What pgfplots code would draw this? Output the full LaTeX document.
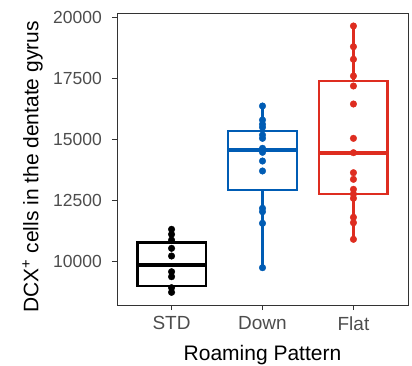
\documentclass[border=0pt]{standalone}
\usepackage{fontspec}
\setmainfont{Liberation Sans}
\usepackage{pgfplots}
\pgfplotsset{compat=1.18}
\definecolor{cstd}{RGB}{0,0,0}
\definecolor{cdown}{RGB}{0,92,180}
\definecolor{cflat}{RGB}{222,45,32}
\definecolor{tickgray}{RGB}{77,77,77}
\definecolor{framegray}{RGB}{51,51,51}
\begin{document}
\begin{tikzpicture}
\begin{axis}[
  scale only axis,
  width=291pt, height=292pt,
  xmin=0.4, xmax=3.6,
  ymin=8197, ymax=20164,
  xtick={1,2,3},
  xticklabels={STD,Down,Flat},
  ytick={10000,12500,15000,17500,20000},
  scaled y ticks=false,
  yticklabel={\pgfmathprintnumber[fixed,precision=0,1000 sep={},assume math mode=true]{\tick}},
  tick align=outside,
  major tick length=5pt,
  xtick pos=bottom, ytick pos=left,
  axis line style={framegray, line width=0.9pt},
  every tick/.style={framegray, line width=0.9pt},
  x tick label style={font=\fontsize{19}{22}\selectfont, text=tickgray, anchor=north, inner sep=0pt, yshift=-6.5pt},
  y tick label style={font=\fontsize{17.5}{20}\selectfont, text=tickgray, anchor=east, inner sep=0pt, xshift=-10pt},
  xlabel={Roaming Pattern},
  ylabel={DCX\textsuperscript{+} cells in the dentate gyrus},
  label style={font=\fontsize{21}{24}\selectfont, inner sep=0pt},
  xlabel style={at={([yshift=-40pt]axis description cs:0.5,0)}, anchor=north},
  ylabel style={at={([xshift=-74pt]axis description cs:0,0.473)}, anchor=south, rotate=0},
  clip=false,
  box/.style={line width=2.2pt, line join=miter},
  med/.style={line width=4.2pt},
  wh/.style={line width=2.6pt},
  pts/.style={only marks, mark=*, mark size=3.3pt},
]
% STD
\addplot[cstd, box] coordinates {(0.625,8988) (1.375,8988) (1.375,10760) (0.625,10760)} --cycle;
\addplot[cstd, med] coordinates {(0.625,9836) (1.375,9836)};
\addplot[cstd, wh] coordinates {(1,10760) (1,11299)};
\addplot[cstd, wh] coordinates {(1,8988) (1,8717)};
\addplot[cstd, pts] table {
x y
1 11299
1 11094
1 10861
1 10520
1 10205
1 9561
1 9357
1 8906
1 8717
};
% Down
\addplot[cdown, box] coordinates {(1.625,12910) (2.375,12910) (2.375,15340) (1.625,15340)} --cycle;
\addplot[cdown, med] coordinates {(1.625,14549) (2.375,14549)};
\addplot[cdown, wh] coordinates {(2,15340) (2,16352)};
\addplot[cdown, wh] coordinates {(2,12910) (2,9727)};
\addplot[cdown, pts] table {
x y
2 16352
2 15779
2 15602
2 15479
2 15164
2 15027
2 14618
2 14455
2 14098
2 13689
2 12160
2 12022
2 11545
2 9727
};
% Flat
\addplot[cflat, box] coordinates {(2.625,12746) (3.375,12746) (3.375,17389) (2.625,17389)} --cycle;
\addplot[cflat, med] coordinates {(2.625,14439) (3.375,14439)};
\addplot[cflat, wh] coordinates {(3,17389) (3,19631)};
\addplot[cflat, wh] coordinates {(3,12746) (3,10889)};
\addplot[cflat, pts] table {
x y
3 19631
3 18783
3 18266
3 17582
3 17172
3 16434
3 15027
3 14439
3 13619
3 13348
3 12938
3 12746
3 12570
3 11791
3 11570
3 10889
};
\path (axis description cs:-0.402,-0.2055) rectangle (axis description cs:1.0137,1.0445);
\end{axis}
\end{tikzpicture}
\end{document}
